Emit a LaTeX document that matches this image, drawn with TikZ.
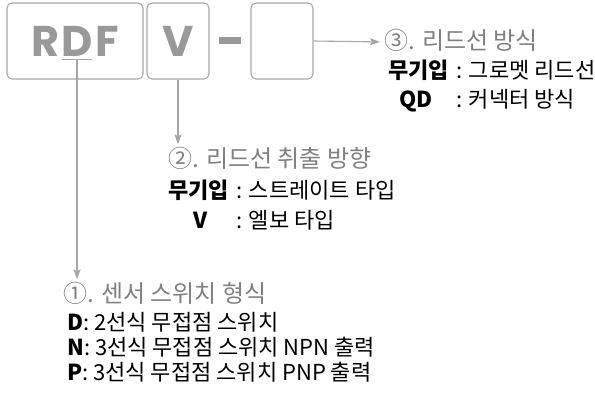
\documentclass[tikz,border=0pt]{standalone}
\usepackage{fontspec}
\setmainfont{Noto Sans CJK KR}
\newfontfamily\logofont[LetterSpace=5]{Poppins}
\usepackage{tikz}
\usetikzlibrary{arrows.meta,calc,positioning}
\definecolor{boxgray}{HTML}{A6A6A6}
\definecolor{codegray}{HTML}{999999}
\definecolor{headgray}{HTML}{808080}
\tikzset{%
	codebox/.style  = {draw=boxgray, line width=1.1pt, rounded corners=5pt, minimum height=76pt, inner sep=0pt}, % Code field
	codetext/.style = {text=codegray, font=\logofont\bfseries\fontsize{43}{43}\selectfont}, % Code letters
	headtext/.style = {anchor=west, inner sep=0pt, text=headgray, font=\fontsize{24}{24}\selectfont, text height=19pt, text depth=4pt}, % Title
	itemtext/.style = {anchor=west, inner sep=0pt, font=\fontsize{22}{22}\selectfont, text height=17pt, text depth=3pt}, % Option line
	leader/.style   = {draw=boxgray, line width=1.1pt, -{Stealth[length=10pt,width=7pt,inset=2pt]}, shorten >=4pt}, % Arrow
}

\begin{document}
\begin{tikzpicture}[x=1pt, y=-1pt]
	\useasboundingbox (0,0) rectangle (595,396);
	% code fields
	\node[codebox, minimum width=136pt, codetext] (rdf) at (75,41) {RDF};
	\node[codebox, minimum width=62pt, codetext] (lead) at (178,41) {V};
	\node[fill=codegray, minimum width=22pt, minimum height=7pt, inner sep=0pt] (dash) at (230,40.5) {};
	\node[codebox, minimum width=62pt] (conn) at (282,41) {};
	\coordinate (ul) at (77,60);
	\draw[boxgray, line width=1pt] ($(ul)+(-15,0)$) -- ($(ul)+(15,0)$);
	% (3) lead wire
	\node[headtext] (h3) at (384,42) {③. 리드선 방식};
	\node[itemtext] (k3a) at (388,72) {\textbf{무기입}};
	\node[itemtext] (v3a) at (456,72) {: 그로멧 리드선};
	\node[itemtext] (k3b) at (399,100) {\textbf{QD}};
	\node[itemtext] (v3b) at (456,100) {: 커넥터 방식};
	% (2) lead direction
	\node[headtext] (h2) at (168,160) {②. 리드선 취출 방향};
	\node[itemtext] (k2a) at (168,191) {\textbf{무기입}};
	\node[itemtext] (v2a) at (236,191) {: 스트레이트 타입};
	\node[itemtext] (k2b) at (193,221) {\textbf{V}};
	\node[itemtext] (v2b) at (236,221) {: 엘보 타입};
	% (1) sensor type
	\node[headtext] (h1) at (63,295) {①. 센서 스위치 형식};
	\node[itemtext] (k1a) at (67,323) {\textbf{D}: 2선식 무접점 스위치};
	\node[itemtext] (k1b) at (67,348) {\textbf{N}: 3선식 무접점 스위치 NPN 출력};
	\node[itemtext] (k1c) at (67,373) {\textbf{P}: 3선식 무접점 스위치 PNP 출력};
	% leaders
	\draw[leader] (conn.east) -- (h3.west);
	\draw[leader] (lead.south) -- (lead.south |- h2.north);
	\draw[leader] (ul) -- (ul |- h1.north);
\end{tikzpicture}
\end{document}
